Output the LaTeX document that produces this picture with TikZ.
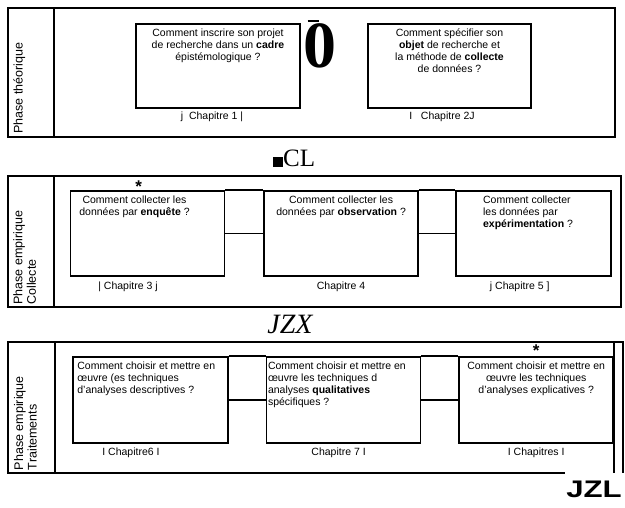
\documentclass[tikz,border=0pt]{standalone}
\usepackage{fontspec}
\setmainfont{Liberation Sans}
\newfontfamily\titleserif{Liberation Serif}
\usetikzlibrary{positioning}

\begin{document}
\begin{tikzpicture}[
  x=1pt, y=-1pt,
  frame/.style={draw, line width=1.6pt, inner sep=0pt},
  box/.style={draw, line width=1.6pt, minimum width=154pt, minimum height=85pt, inner sep=0pt},
  txt/.style={inner sep=0pt, font=\fontsize{10.5}{12}\selectfont},
  chap/.style={inner sep=1pt, font=\fontsize{10.5}{12}\selectfont},
  phase/.style={rotate=90, anchor=north west, inner sep=0pt, align=left, font=\fontsize{12.5}{13.5}\selectfont},
  star/.style={inner sep=0pt, font=\fontsize{17}{17}\selectfont\bfseries},
  link/.style={line width=1.6pt}
]
\useasboundingbox (0,0) rectangle (625,508);

\node[frame, minimum width=607pt, minimum height=129pt] (p1) at (311.5,72.5) {};
\node[frame, minimum width=613pt, minimum height=131pt] (p2) at (314.5,241.5) {};
\node[inner sep=0pt, minimum width=615pt, minimum height=131pt] (p3) at (315.5,407.5) {};

\draw[link] ([xshift=47pt]p1.north west) -- ([xshift=47pt]p1.south west);
\draw[link] ([xshift=47pt]p2.north west) -- ([xshift=47pt]p2.south west);
\draw[link] ([xshift=47pt]p3.north west) -- ([xshift=47pt]p3.south west);
\draw[link] ([xshift=557pt]p3.south west) -- (p3.south west) -- (p3.north west) -- (p3.north east) -- (p3.south east);

\node[phase] (ph1) at ([xshift=6pt,yshift=4pt]p1.south west) {Phase théorique};
\node[phase] (ph2) at ([xshift=6pt,yshift=3pt]p2.south west) {Phase empirique\\Collecte};
\node[phase] (ph3) at ([xshift=6pt,yshift=3pt]p3.south west) {Phase empirique\\Traitements};

\node[box, minimum width=164pt, minimum height=84pt] (q1) at (218,66) {};
\node[box, minimum width=163pt, minimum height=84pt] (q2) at (449.5,66) {};
\node[box] (q3) at (147.5,233.5) {};
\node[box, right=38pt of q3] (q4) {};
\node[box, minimum width=155pt, right=36pt of q4] (q5) {};
\node[box, minimum width=155pt, minimum height=86pt] (q6) at (150.5,400) {};
\node[box, minimum height=86pt, right=37pt of q6] (q7) {};
\node[box, minimum height=86pt, right=37pt of q7] (q8) {};

\draw[link] (q8.north east |- p3.north) -- (q8.south east |- p3.south);

\node[txt, align=center, below=5pt of q1.north] (t1) {Comment inscrire son projet\\de recherche dans un \textbf{cadre}\\épistémologique ?};
\node[txt, align=center, below=5pt of q2.north] (t2) {Comment spécifier son\\\textbf{objet} de recherche et\\la méthode de \textbf{collecte}\\de données ?};
\node[txt, align=center, below=5pt of q3.north, xshift=-13pt] (t3) {Comment collecter les\\données par \textbf{enquête} ?};
\node[txt, align=center, below=5pt of q4.north] (t4) {Comment collecter les\\données par \textbf{observation} ?};
\node[txt, align=left, below right=5pt and 28pt of q5.north west] (t5) {Comment collecter\\les données par\\\textbf{expérimentation} ?};
\node[txt, align=left, below right=5pt and 5pt of q6.north west] (t6) {Comment choisir et mettre en\\œuvre (es techniques\\d'analyses descriptives ?};
\node[txt, align=left, below right=5pt and 2pt of q7.north west] (t7) {Comment choisir et mettre en\\œuvre les techniques d\\analyses \textbf{qualitatives}\\spécifiques ?};
\node[txt, align=center, below=5pt of q8.north] (t8) {Comment choisir et mettre en\\œuvre les techniques\\d'analyses explicatives ?};

\node[chap, below=2pt of q1, xshift=-6pt] (c1) {j\ \ Chapitre 1 |};
\node[chap, below=2pt of q2, xshift=-7.5pt] (c2) {I\ \ \ Chapitre 2J};
\node[chap, below=4pt of q3, xshift=-19.5pt] (c3) {| Chapitre 3 j};
\node[chap, below=4pt of q4] (c4) {Chapitre 4};
\node[chap, below=4pt of q5, xshift=-13.5pt] (c5) {j Chapitre 5 ]};
\node[chap, below=3pt of q6, xshift=-19.5pt] (c6) {I Chapitre6 I};
\node[chap, below=3pt of q7, xshift=-5pt] (c7) {Chapitre 7 I};
\node[chap, below=3pt of q8] (c8) {I Chapitres I};

\draw[link] (q3.north east) -- (q4.north west);
\draw[link] (q3) -- (q4);
\draw[link] (q4.north east) -- (q5.north west);
\draw[link] (q4) -- (q5);
\draw[link] (q6.north east) -- (q7.north west);
\draw[link] (q6) -- (q7);
\draw[link] (q7.north east) -- (q8.north west);
\draw[link] (q7) -- (q8);

\node[star] (s1) at ([xshift=69pt,yshift=3.5pt]q3.north west) {*};
\node[star] (s2) at ([yshift=5.5pt]q8.north) {*};

\node[inner sep=0pt, anchor=base, font=\titleserif\fontsize{66}{66}\selectfont\bfseries] (zero) at (320,68) {\rlap{\hspace{4pt}\raisebox{46pt}{\rule{11pt}{2pt}}}0};
\node[inner sep=0pt, anchor=base west, font=\titleserif\fontsize{25}{25}\selectfont] (cl) at (273,167) {\rule{10pt}{10pt}CL};
\node[inner sep=0pt, anchor=base, font=\titleserif\itshape\fontsize{28}{28}\selectfont] (jzx) at (290,334) {JZX};
\node[inner sep=0pt, anchor=base east, xscale=1.3, font=\fontsize{24}{24}\selectfont\bfseries] (jzl) at (622,497) {JZL};
\end{tikzpicture}
\end{document}
